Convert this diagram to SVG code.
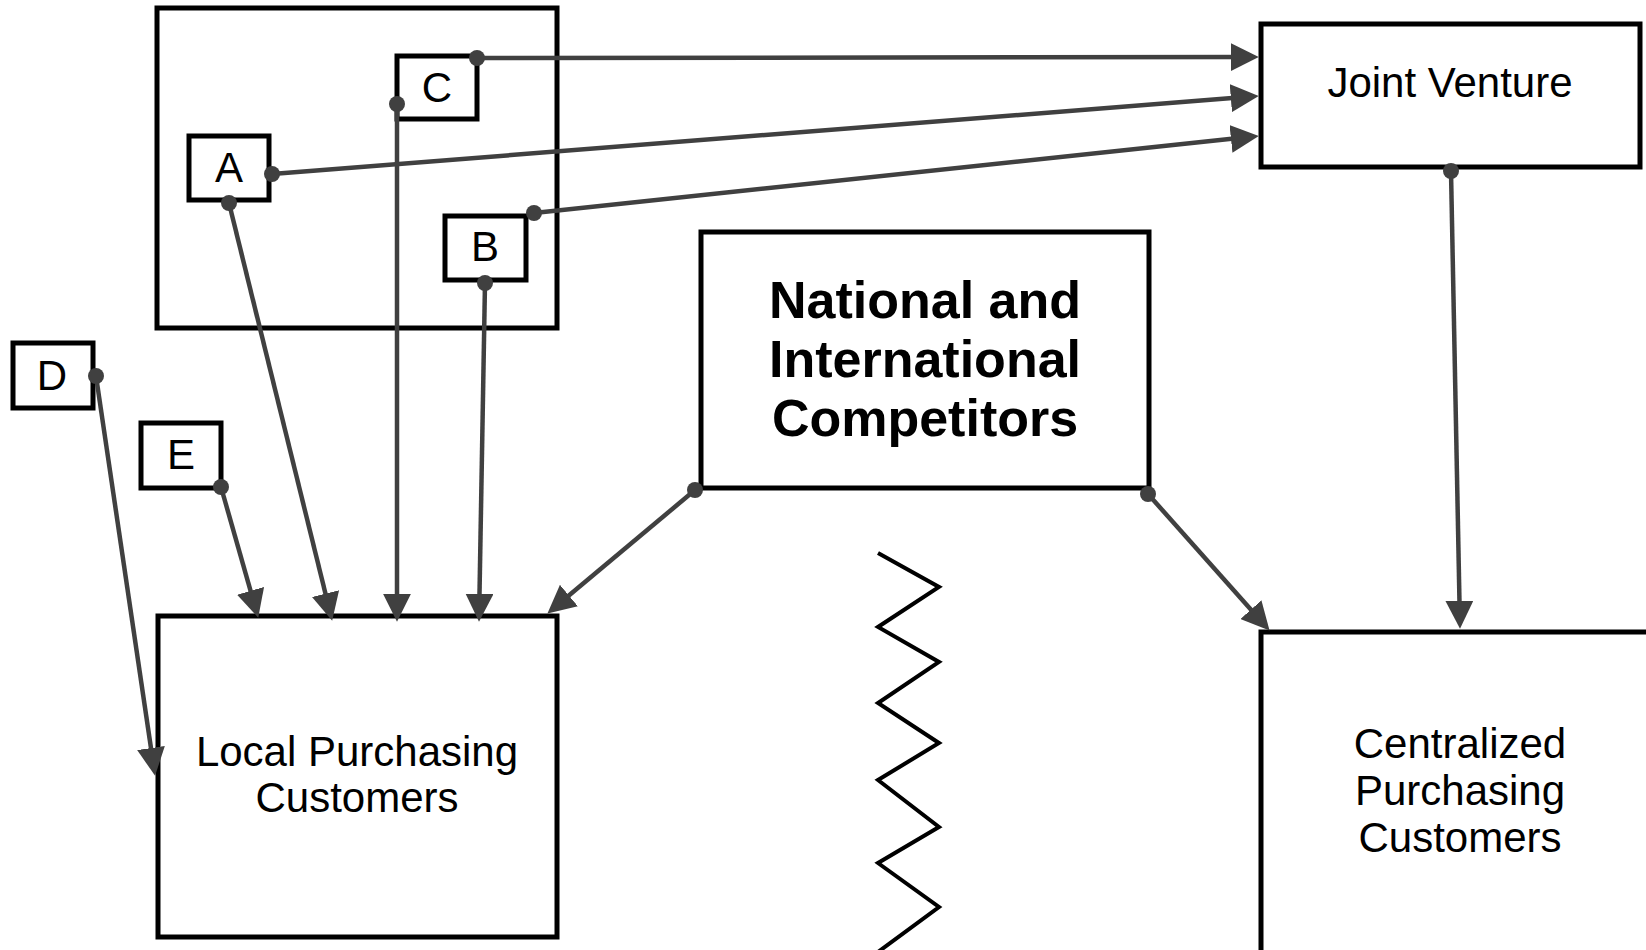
<svg xmlns="http://www.w3.org/2000/svg" width="1646" height="950" viewBox="0 0 1646 950">
<style>
.box{fill:#fff;stroke:#000;stroke-width:5}
.t{font-family:"Liberation Sans",Arial,sans-serif;font-size:42px;fill:#000;text-anchor:middle}
.b{font-family:"Liberation Sans",Arial,sans-serif;font-size:52px;font-weight:bold;fill:#000;text-anchor:middle}
.c{stroke:#404040;stroke-width:4.5;fill:none;marker-end:url(#ah)}
.d{fill:#404040}
</style>
<defs>
<marker id="ah" markerUnits="userSpaceOnUse" markerWidth="28" markerHeight="28" refX="16" refY="13" orient="auto" viewBox="0 0 26 26">
<path d="M0,0 L26,13 L0,26 z" fill="#404040"/>
</marker>
</defs>
<rect width="1646" height="950" fill="#fff"/>
<g id="outer"><rect class="box" x="157" y="8" width="400" height="320"/></g>
<g id="nodeC"><rect class="box" x="397" y="56" width="80" height="63"/><text class="t" x="437" y="102">C</text></g>
<g id="nodeA"><rect class="box" x="189" y="136" width="80" height="64"/><text class="t" x="229" y="182">A</text></g>
<g id="nodeB"><rect class="box" x="445" y="216" width="81" height="64"/><text class="t" x="485" y="261">B</text></g>
<g id="nodeD"><rect class="box" x="13" y="343" width="80" height="65"/><text class="t" x="52" y="390">D</text></g>
<g id="nodeE"><rect class="box" x="141" y="423" width="80" height="65"/><text class="t" x="181" y="469">E</text></g>
<g id="local"><rect class="box" x="158" y="616" width="399" height="321"/><text class="t" x="357" y="766">Local Purchasing</text><text class="t" x="357" y="812">Customers</text></g>
<g id="competitors"><rect class="box" x="701" y="232" width="448" height="256"/><text class="b" x="925" y="318">National and</text><text class="b" x="925" y="377">International</text><text class="b" x="925" y="436">Competitors</text></g>
<g id="jv"><rect class="box" x="1261" y="24" width="379" height="143"/><text class="t" x="1450" y="97">Joint Venture</text></g>
<g id="central"><rect class="box" x="1261" y="632" width="400" height="400"/><text class="t" x="1460" y="758">Centralized</text><text class="t" x="1460" y="805">Purchasing</text><text class="t" x="1460" y="852">Customers</text></g>
<g id="zigzag"><polyline points="878,553 939,587 878,627 939,662 878,703 939,743 878,780 939,827 878,863 939,907 878,952" fill="none" stroke="#000" stroke-width="4"/></g>
<g id="connectors">
<line class="c" x1="477" y1="58" x2="1248" y2="57"/>
<line class="c" x1="272" y1="174" x2="1248" y2="96.8"/>
<line class="c" x1="534" y1="213" x2="1248.1" y2="137.1"/>
<line class="c" x1="1451" y1="171" x2="1459.8" y2="618"/>
<line class="c" x1="695" y1="490" x2="555.7" y2="606.6"/>
<line class="c" x1="1148" y1="494" x2="1262.4" y2="622.5"/>
<line class="c" x1="229" y1="203" x2="329.6" y2="610.3"/>
<line class="c" x1="397" y1="104" x2="397" y2="611"/>
<line class="c" x1="485" y1="283" x2="479.2" y2="611"/>
<line class="c" x1="221" y1="487" x2="255.3" y2="607.4"/>
<line class="c" x1="96" y1="376" x2="153.5" y2="765.1"/>
<circle class="d" cx="477" cy="58" r="8"/>
<circle class="d" cx="272" cy="174" r="8"/>
<circle class="d" cx="534" cy="213" r="8"/>
<circle class="d" cx="1451" cy="171" r="8"/>
<circle class="d" cx="695" cy="490" r="8"/>
<circle class="d" cx="1148" cy="494" r="8"/>
<circle class="d" cx="229" cy="203" r="8"/>
<circle class="d" cx="397" cy="104" r="8"/>
<circle class="d" cx="485" cy="283" r="8"/>
<circle class="d" cx="221" cy="487" r="8"/>
<circle class="d" cx="96" cy="376" r="8"/>
</g>
</svg>
